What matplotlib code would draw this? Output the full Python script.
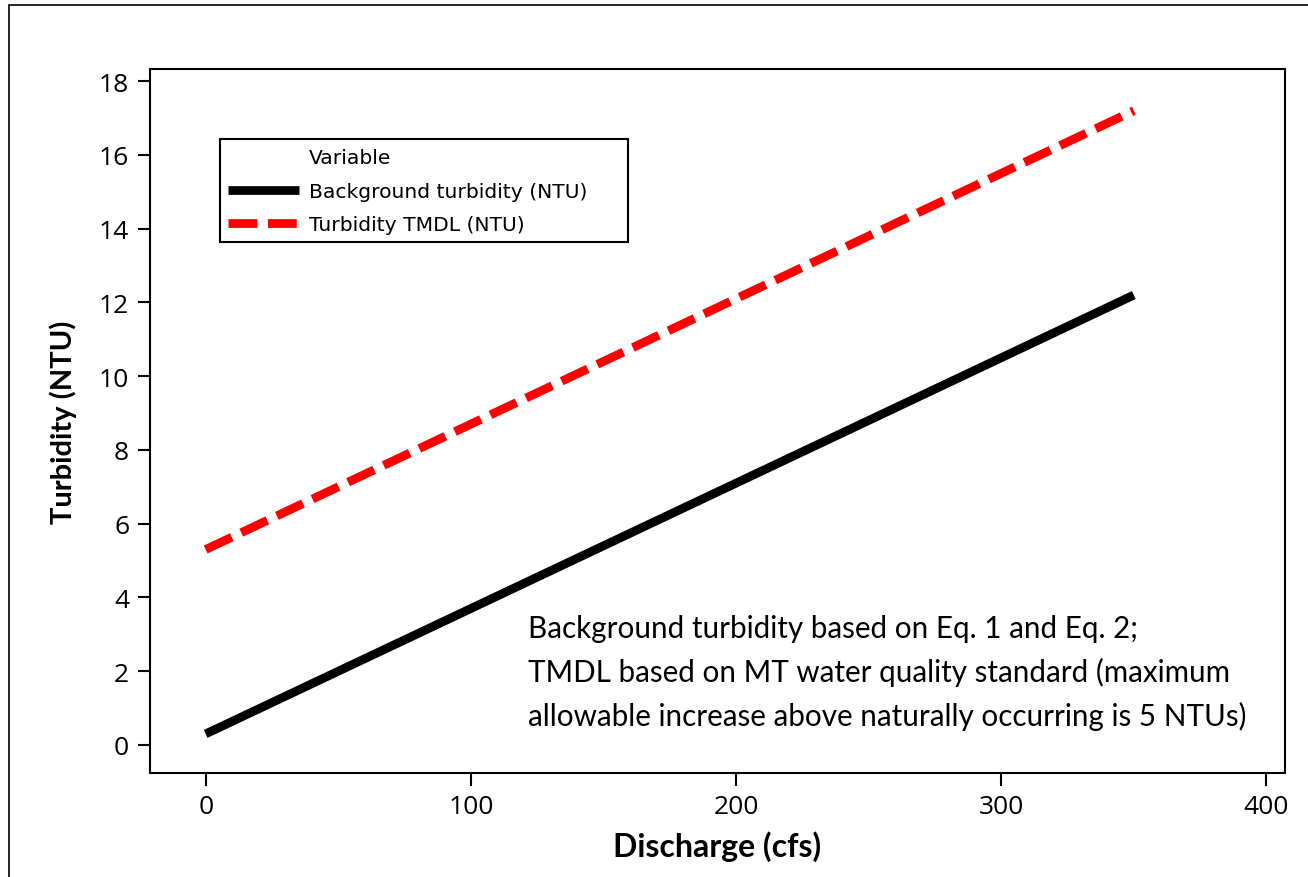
import matplotlib.pyplot as plt
from matplotlib.lines import Line2D
from matplotlib.patches import Rectangle

discharge = [0, 50, 100, 150, 200, 250, 300, 350]
background = [0.3, 2.0, 3.7, 5.4, 7.1, 8.8, 10.5, 12.2]
tmdl = [5.3, 7.0, 8.7, 10.4, 12.1, 13.8, 15.5, 17.2]
x_ticks = [0, 100, 200, 300, 400]
y_ticks = [0, 2, 4, 6, 8, 10, 12, 14, 16, 18]

W, H = 1308, 878
fig = plt.figure(figsize=(W / 100, H / 100), dpi=100)
# outer frame of the figure
fig.patches.append(Rectangle((9 / W, -0.1), 1.2, 1 - 6 / H + 0.1,
                             transform=fig.transFigure, fill=False,
                             edgecolor='black', lw=1.2))

ax = fig.add_axes([150 / W, 1 - 774 / H, 1135 / W, 704 / H])
l1, = ax.plot(discharge, background, color='black', lw=6.3, solid_capstyle='butt',
              label='Background turbidity (NTU)')
l2, = ax.plot(discharge, tmdl, color='red', lw=6.3, dashes=(3.3, 1.2),
              dash_capstyle='butt', label='Turbidity TMDL (NTU)')

ax.set_xlim(-21, 407)
ax.set_ylim(-0.76, 18.33)
ax.set_xticks(x_ticks)
ax.set_yticks(y_ticks)
ax.tick_params(direction='out', length=9, width=1.5, labelsize=19, pad=6)
for lab in ax.get_xticklabels() + ax.get_yticklabels():
    lab.set_family('Open Sans')
for s in ax.spines.values():
    s.set_linewidth(1.5)

ax.set_xlabel('Discharge (cfs)', fontsize=23, fontweight='bold', family='Lato', labelpad=8)
ax.set_ylabel('Turbidity (NTU)', fontsize=21, fontweight='bold', family='Lato', labelpad=16)

# legend: "Variable" header aligned with the entry texts, frame drawn separately
header = Line2D([], [], color='none')
leg = ax.legend([header, l1, l2], ['Variable', l1.get_label(), l2.get_label()],
                loc='upper left', bbox_to_anchor=(228 / W, 1 - 149 / H),
                bbox_transform=fig.transFigure, frameon=False,
                prop={'family': 'DejaVu Sans', 'size': 14.6},
                handlelength=3.5, handletextpad=0.5, borderpad=0,
                borderaxespad=0, labelspacing=0.72)
fig.patches.append(Rectangle((220 / W, 1 - 243 / H), 408 / W, 103 / H,
                             transform=fig.transFigure, fill=False,
                             edgecolor='black', lw=1.5, zorder=5))

ax.text((528 - 150) / 1135, (774 - 673) / 704,
        'Background turbidity based on Eq. 1 and Eq. 2;\n'
        'TMDL based on MT water quality standard (maximum\n'
        'allowable increase above naturally occurring is 5 NTUs)',
        transform=ax.transAxes, family='Lato', fontsize=21.3, va='center',
        linespacing=1.62)

fig.savefig('out.png', dpi=100)
